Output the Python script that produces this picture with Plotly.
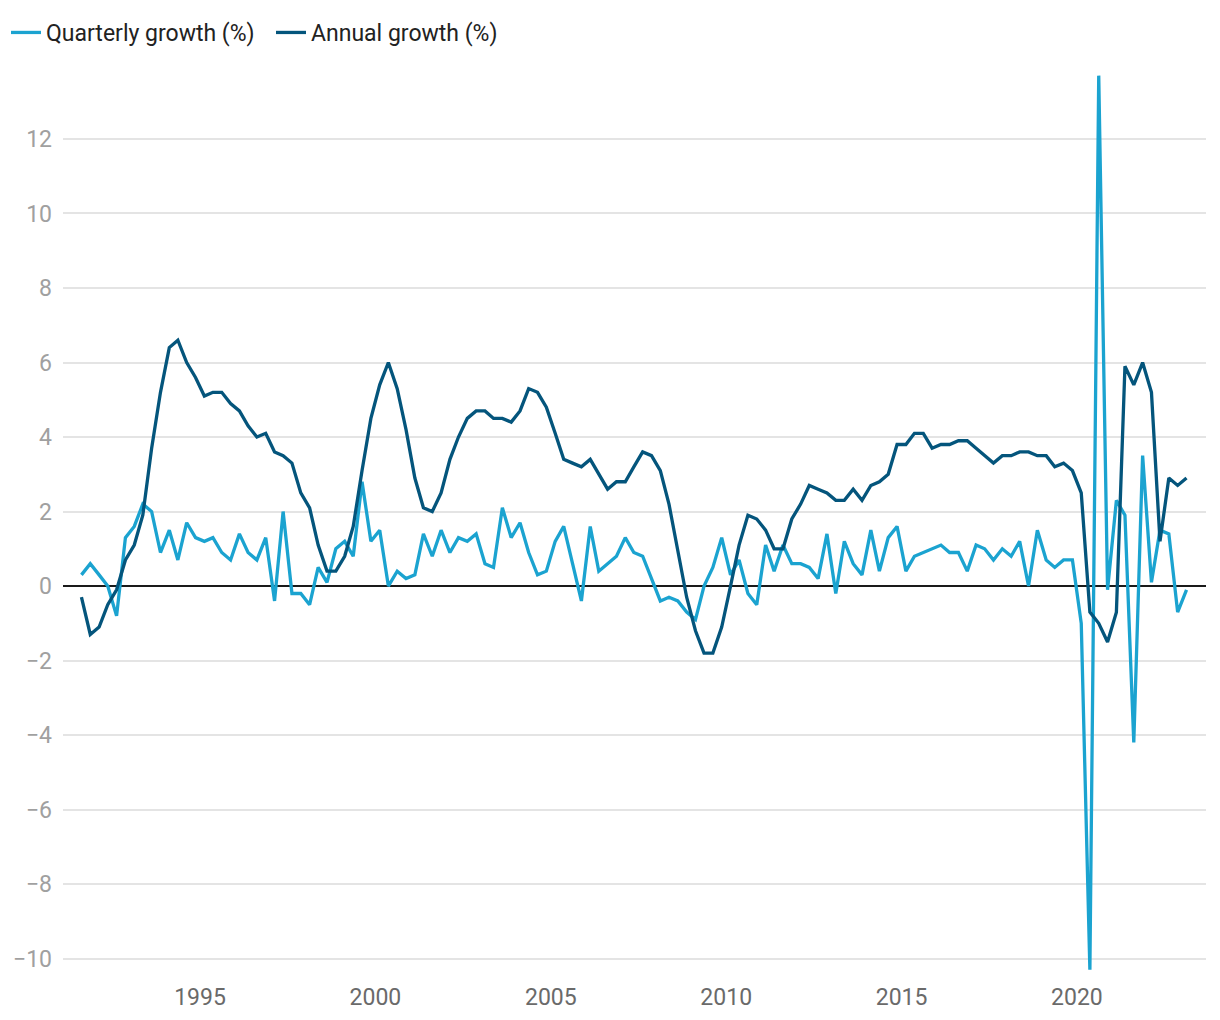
import pandas as pd
import plotly.graph_objects as go

# Quarter periods (1991 Q3 .. 2023 Q1), plotted at mid-quarter
first_quarter = "1991Q3"
last_quarter = "2023Q1"

quarterly_growth = [
    0.3, 0.6, 0.3, 0.0, -0.8, 1.3, 1.6, 2.2, 2.0, 0.9,
    1.5, 0.7, 1.7, 1.3, 1.2, 1.3, 0.9, 0.7, 1.4, 0.9,
    0.7, 1.3, -0.4, 2.0, -0.2, -0.2, -0.5, 0.5, 0.1, 1.0,
    1.2, 0.8, 2.8, 1.2, 1.5, 0.0, 0.4, 0.2, 0.3, 1.4,
    0.8, 1.5, 0.9, 1.3, 1.2, 1.4, 0.6, 0.5, 2.1, 1.3,
    1.7, 0.9, 0.3, 0.4, 1.2, 1.6, 0.6, -0.4, 1.6, 0.4,
    0.6, 0.8, 1.3, 0.9, 0.8, 0.2, -0.4, -0.3, -0.4, -0.7,
    -0.9, 0.0, 0.5, 1.3, 0.3, 0.7, -0.2, -0.5, 1.1, 0.4,
    1.1, 0.6, 0.6, 0.5, 0.2, 1.4, -0.2, 1.2, 0.6, 0.3,
    1.5, 0.4, 1.3, 1.6, 0.4, 0.8, 0.9, 1.0, 1.1, 0.9,
    0.9, 0.4, 1.1, 1.0, 0.7, 1.0, 0.8, 1.2, 0.0, 1.5,
    0.7, 0.5, 0.7, 0.7, -1.0, -10.3, 13.7, -0.1, 2.3, 1.9,
    -4.2, 3.5, 0.1, 1.5, 1.4, -0.7, -0.1,
]

annual_growth = [
    -0.3, -1.3, -1.1, -0.5, -0.1, 0.7, 1.1, 1.9, 3.7, 5.2,
    6.4, 6.6, 6.0, 5.6, 5.1, 5.2, 5.2, 4.9, 4.7, 4.3,
    4.0, 4.1, 3.6, 3.5, 3.3, 2.5, 2.1, 1.1, 0.4, 0.4,
    0.8, 1.6, 3.1, 4.5, 5.4, 6.0, 5.3, 4.2, 2.9, 2.1,
    2.0, 2.5, 3.4, 4.0, 4.5, 4.7, 4.7, 4.5, 4.5, 4.4,
    4.7, 5.3, 5.2, 4.8, 4.1, 3.4, 3.3, 3.2, 3.4, 3.0,
    2.6, 2.8, 2.8, 3.2, 3.6, 3.5, 3.1, 2.2, 1.0, -0.3,
    -1.2, -1.8, -1.8, -1.1, 0.0, 1.1, 1.9, 1.8, 1.5, 1.0,
    1.0, 1.8, 2.2, 2.7, 2.6, 2.5, 2.3, 2.3, 2.6, 2.3,
    2.7, 2.8, 3.0, 3.8, 3.8, 4.1, 4.1, 3.7, 3.8, 3.8,
    3.9, 3.9, 3.7, 3.5, 3.3, 3.5, 3.5, 3.6, 3.6, 3.5,
    3.5, 3.2, 3.3, 3.1, 2.5, -0.7, -1.0, -1.5, -0.7, 5.9,
    5.4, 6.0, 5.2, 1.2, 2.9, 2.7, 2.9,
]

series_names = ["Quarterly growth (%)", "Annual growth (%)"]
series_colors = ["#1ba3d0", "#04557c"]

x_tick_values = ["1995-01-01", "2000-01-01", "2005-01-01", "2010-01-01", "2015-01-01", "2020-01-01"]
x_tick_labels = ["1995", "2000", "2005", "2010", "2015", "2020"]
y_tick_values = [-10, -8, -6, -4, -2, 0, 2, 4, 6, 8, 10, 12]

periods = pd.period_range(first_quarter, last_quarter, freq="Q")
dates = [p.start_time + pd.DateOffset(months=1, days=14) for p in periods]

fig = go.Figure()
for name, vals, col in zip(series_names, [quarterly_growth, annual_growth], series_colors):
    fig.add_trace(go.Scatter(
        x=dates, y=vals, mode="lines", name=name,
        line=dict(color=col, width=3.3),
    ))

fig.update_layout(
    width=1220, height=1020,
    margin=dict(l=63, r=14, t=60, b=45, autoexpand=False),
    plot_bgcolor="white", paper_bgcolor="white",
    font=dict(family="Roboto", size=23, color="#333333"),
    showlegend=True,
    legend=dict(
        orientation="h", xref="container", yref="container",
        x=6 / 1220, y=1 - 11 / 1020, xanchor="left", yanchor="top",
        font=dict(size=23, color="#222222"),
        bgcolor="rgba(0,0,0,0)",
        entrywidth=220, entrywidthmode="pixels",
    ),
    xaxis=dict(
        range=["1991-02-04", "2023-09-06"],
        tickvals=x_tick_values, ticktext=x_tick_labels,
        showgrid=False, zeroline=False, showline=False,
        ticks="", tickfont=dict(size=23, color="#6a6a6a"),
        ticklabelstandoff=6,
    ),
    yaxis=dict(
        range=[-10.44, 14.12],
        tickvals=y_tick_values,
        showgrid=True, gridcolor="#e4e4e4", gridwidth=1.5,
        zeroline=True, zerolinecolor="#1a1a1a", zerolinewidth=1.5,
        showline=False, ticks="",
        tickfont=dict(size=23, color="#a0a0a0"),
        ticklabelstandoff=10,
    ),
)

fig.write_html(
    "out.html",
    config={"displayModeBar": False},
    post_script="document.body.style.margin='0';document.body.style.overflow='hidden';",
)
